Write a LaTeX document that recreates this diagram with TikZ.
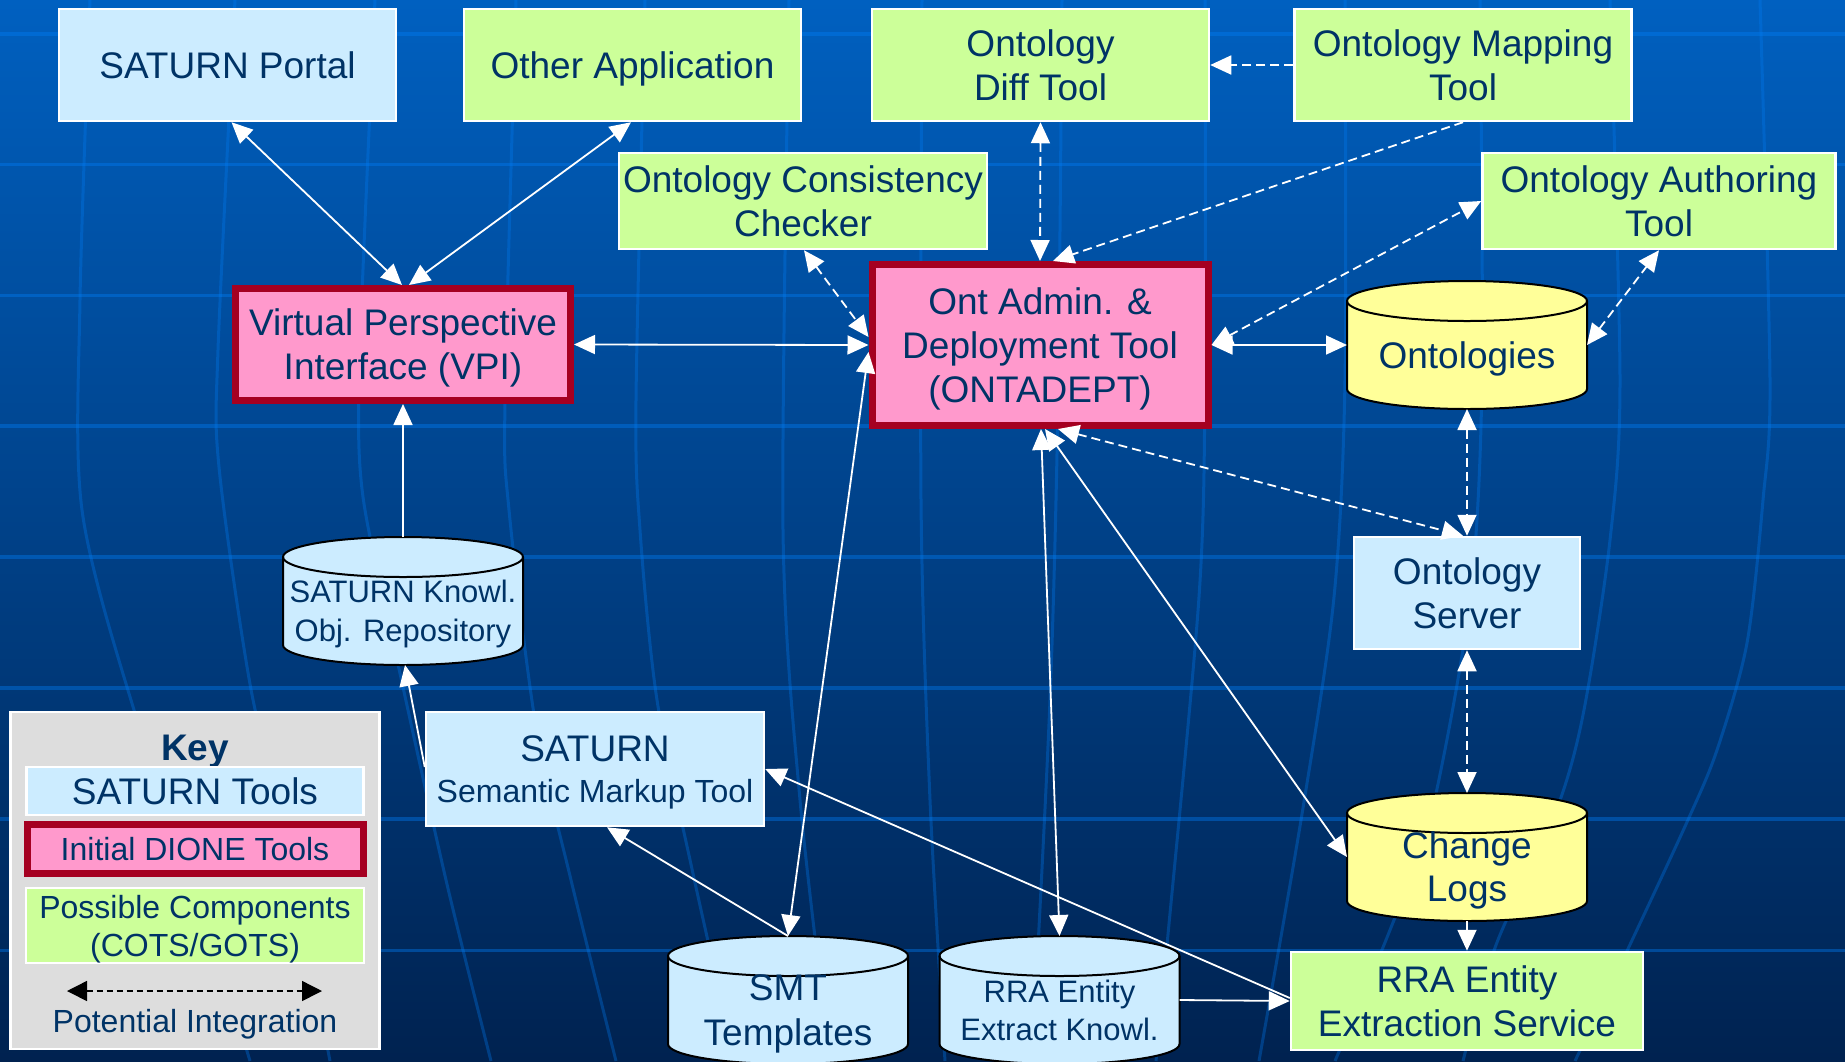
\documentclass[tikz,border=0pt]{standalone}
\usepackage{fontspec}
\setmainfont{Liberation Sans}
\usetikzlibrary{arrows.meta,calc}
\definecolor{navy}{RGB}{0,51,102}
\definecolor{lblue}{RGB}{204,236,255}
\definecolor{lgreen}{RGB}{204,255,153}
\definecolor{pinkf}{RGB}{255,153,204}
\definecolor{dred}{RGB}{165,0,33}
\definecolor{lyellow}{RGB}{255,255,153}
\definecolor{keygray}{RGB}{221,221,221}
\definecolor{bgtop}{RGB}{0,96,192}
\definecolor{bgmid}{RGB}{0,68,138}
\definecolor{bgbot}{RGB}{0,34,80}
\definecolor{gridc}{RGB}{0,125,245}
% name, cx, cy, fill, font, text
\newcommand\mycyl[6]{%
  \node[cylbox] (#1) at (#2,#3) {};
  \filldraw[cylline, fill=#4] ($(#1.north west)+(0,20)$) -- ($(#1.south west)+(0,-20)$)
     arc[start angle=180,end angle=360,x radius=120pt,y radius=20pt]
     -- ($(#1.north east)+(0,20)$)
     arc[start angle=0,end angle=180,x radius=120pt,y radius=20pt] -- cycle;
  \draw[cylline] ($(#1.north west)+(0,20)$) arc[start angle=180,end angle=360,x radius=120pt,y radius=20pt];
  \node[cyltext, font=#5] (#1t) at ($(#1.center)+(0,10)$) {#6};
}
\begin{document}
\begin{tikzpicture}[x=1pt,y=-1pt,
  >={Triangle[length=21pt,width=19pt]},
  box/.style={draw=white, line width=2.5pt, inner sep=0pt, text=navy, align=center,
     text depth=0pt, font=\fontsize{37}{44}\selectfont},
  sbox/.style={box, fill=lblue},
  gbox/.style={box, fill=lgreen},
  pbox/.style={box, fill=pinkf, draw=dred, line width=7pt},
  cylbox/.style={inner sep=0pt, outer sep=0pt, minimum width=240pt, minimum height=128pt},
  cylline/.style={draw=black, line width=2pt},
  cyltext/.style={text=navy, align=center, inner sep=0pt, text depth=0pt},
  conn/.style={draw=white, line width=1.8pt},
  dconn/.style={conn, dash pattern=on 9pt off 5pt},
  hgrid/.style={draw=gridc, opacity=0.40, line width=3.5pt},
  vgrid/.style={draw=gridc, opacity=0.32, line width=3pt},
  keytxt/.style={text=navy, inner sep=0pt, text depth=0pt, font=\fontsize{32}{38}\selectfont}
]
\useasboundingbox (0,0) rectangle (1845,1061);
\clip (0,0) rectangle (1845,1061);
% background
\shade[top color=bgtop, middle color=bgmid, bottom color=bgbot] (0,0) rectangle (1845,1061);
\foreach \yy in {34,164.5,295.5,426,557,688,819,950.5}
  \draw[hgrid] (0,\yy) -- (1845,\yy);
\draw[vgrid] plot[smooth] coordinates {(90,0) (80,300) (82,510) (134,710) (200,900) (250,1061)};
\draw[vgrid] plot[smooth] coordinates {(235,0) (218,350) (219,467) (250,684) (286,840) (330,1061)};
\draw[vgrid] plot[smooth] coordinates {(375,0) (360,350) (362,489) (393,641) (446,880) (491,1061)};
\draw[vgrid] plot[smooth] coordinates {(516,0) (505,400) (509,510) (536,727) (571,880) (616,1061)};
\draw[vgrid] plot[smooth] coordinates {(645,0) (636,400) (640,530) (657,700) (692,869) (735,1061)};
\draw[vgrid] plot[smooth] coordinates {(789,0) (783,530) (800,800) (830,1061)};
\draw[vgrid] plot[smooth] coordinates {(922,0) (921,500) (930,800) (945,1061)};
\draw[vgrid] plot[smooth] coordinates {(1062,0) (1058,400) (1050,700) (1032,1061)};
\draw[vgrid] plot[smooth] coordinates {(1205,0) (1205,380) (1199,597) (1167,945) (1156,1061)};
\draw[vgrid] plot[smooth] coordinates {(1345,0) (1345,380) (1334,597) (1302,814) (1259,1061)};
\draw[vgrid] plot[smooth] coordinates {(1480,0) (1482,380) (1470,600) (1430,820) (1390,930) (1335,1061)};
\draw[vgrid] plot[smooth] coordinates {(1610,0) (1620,380) (1610,540) (1583,715) (1555,814) (1496,945) (1463,1061)};
\draw[vgrid] plot[smooth] coordinates {(1760,0) (1770,380) (1763,500) (1747,643) (1717,750) (1687,822) (1627,951) (1575,1061)};

% nodes
\node[sbox, minimum width=337pt, minimum height=112pt] (portal) at (227.5,65) {SATURN Portal};
\node[gbox, minimum width=337pt, minimum height=112pt] (otherapp) at (632.5,65) {Other Application};
\node[gbox, minimum width=337pt, minimum height=112pt] (diff) at (1040.5,65) {Ontology\\Diff Tool};
\node[gbox, minimum width=337pt, minimum height=112pt] (mapping) at (1463,65) {Ontology Mapping\\Tool};
\node[gbox, minimum width=368pt, minimum height=96pt] (consist) at (803,201) {Ontology Consistency\\Checker};
\node[gbox, minimum width=353pt, minimum height=96pt] (author) at (1659,201) {Ontology Authoring\\Tool};
\node[pbox, minimum width=335pt, minimum height=112pt] (vpi) at (403,344.5) {Virtual Perspective\\Interface (VPI)};
\node[pbox, minimum width=336pt, minimum height=161pt] (ontadept) at (1040,345) {Ont Admin. \&\\Deployment Tool\\(ONTADEPT)};
\node[sbox, minimum width=226pt, minimum height=112pt] (server) at (1467,593) {Ontology\\Server};
\node[gbox, minimum width=352pt, minimum height=98pt] (rraservice) at (1467,1001) {RRA Entity\\Extraction Service};
\node[sbox, minimum width=338pt, minimum height=114pt] (markup) at (595,769)
  {\fontsize{37}{44}\selectfont SATURN\\[-3pt]\fontsize{32}{38}\selectfont Semantic Markup Tool};

\mycyl{ontologies}{1467}{345}{lyellow}{\fontsize{37}{44}\selectfont}{Ontologies}
\mycyl{knowl}{403}{601}{lblue}{\fontsize{31}{39}\selectfont}{SATURN Knowl.\\Obj. Repository}
\mycyl{changelogs}{1467}{857}{lyellow}{\fontsize{37}{43}\selectfont}{Change\\Logs}
\mycyl{smt}{788}{1000}{lblue}{\fontsize{37}{45}\selectfont}{SMT\\Templates}
\mycyl{rraextract}{1059.5}{1000}{lblue}{\fontsize{31}{38}\selectfont}{RRA Entity\\Extract Knowl.}

% key
\node[draw=white, line width=2.5pt, fill=keygray, minimum width=369pt, minimum height=337pt, inner sep=0pt] (key) at (195,880.5) {};
\node[keytxt, font=\bfseries\fontsize{37}{44}\selectfont] (keytitle) at (195,748) {Key};
\node[sbox, minimum width=337pt, minimum height=48pt] (key1) at (195,791) {SATURN Tools};
\node[pbox, minimum width=336pt, minimum height=49pt, font=\fontsize{32}{38}\selectfont] (key2) at (195,849) {Initial DIONE Tools};
\node[gbox, minimum width=338pt, minimum height=75pt, font=\fontsize{32}{38}\selectfont] (key3) at (195,925.5) {Possible Components\\(COTS/GOTS)};
\coordinate (ka1) at (67,991);
\coordinate (ka2) at (322,991);
\draw[black, line width=1.5pt, dash pattern=on 6pt off 4pt,
  {Triangle[length=20pt,width=20pt]}-{Triangle[length=20pt,width=20pt]}] (ka1) -- (ka2);
\node[keytxt] (keylabel) at (195,1021) {Potential Integration};

% connectors
\draw[conn,<->] ([xshift=4pt]portal.south) -- ([xshift=-1pt]vpi.north);
\draw[conn,<->] ([xshift=-1.5pt]otherapp.south) -- ([xshift=6pt]vpi.north);
\draw[conn,<->] (vpi.east) -- (ontadept.west);
\draw[dconn,<->] ([xshift=1pt]consist.south) -- ([yshift=8pt]ontadept.west);
\draw[conn,<->] (smt.north) -- ([yshift=-7pt]ontadept.west);
\draw[dconn,<->] (diff.south) -- (ontadept.north);
\draw[dconn,->] (mapping.south) -- ([xshift=13pt]ontadept.north);
\draw[dconn,->] (mapping.west) -- (diff.east);
\draw[dconn,<->] (ontadept.east) -- (author.west);
\draw[conn,<->] (ontadept.east) -- (ontologies.west);
\draw[dconn,<->] (ontologies.east) -- (author.south);
\draw[dconn,<->] (ontologies.south) -- (server.north);
\draw[dconn,<->] ([xshift=18pt]ontadept.south) -- ([xshift=-4pt]server.north);
\draw[conn,<->] ([xshift=5pt]ontadept.south) -- (changelogs.west);
\draw[conn,<->] ([xshift=1pt]ontadept.south) -- (rraextract.north);
\draw[dconn,<->] (server.south) -- (changelogs.north);
\draw[conn,->] (changelogs.south) -- (rraservice.north);
\draw[conn,->] (rraextract.east) -- (rraservice.west);
\draw[conn,->] ([yshift=3pt]rraservice.west) -- (markup.east);
\draw[conn,->] (smt.north) -- ([xshift=12pt]markup.south);
\draw[conn,->] ([yshift=2pt]markup.west) -- ([xshift=2pt]knowl.south);
\draw[conn,->] (knowl.north) -- (vpi.south);
\end{tikzpicture}
\end{document}
